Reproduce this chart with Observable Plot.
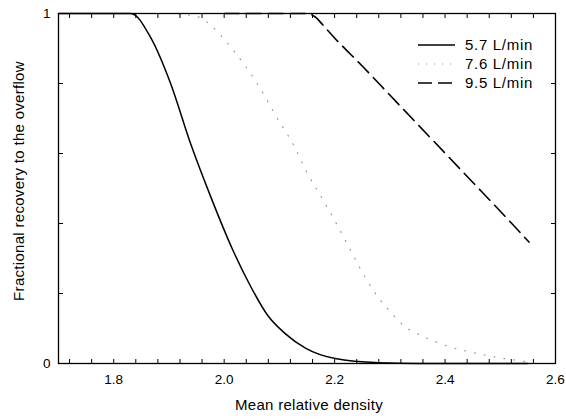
<!DOCTYPE html>
<html><head><meta charset="utf-8">
<script src="https://cdn.jsdelivr.net/npm/d3@7"></script>
<script src="https://cdn.jsdelivr.net/npm/@observablehq/plot@0.6"></script>
<style>
body{margin:0;background:#fff;font-family:"Liberation Sans",Arial,sans-serif;}
#wrap{position:relative;width:566px;height:419px;}
#legend{position:absolute;left:0;top:0;pointer-events:none;}
</style></head><body>
<div id="wrap"></div>
<script>
// Series names
const seriesNames = ["5.7 L/min", "7.6 L/min", "9.5 L/min"];
// 5.7 L/min (solid)
const density57 = [1.70, 1.80, 1.831, 1.867, 1.903, 1.939, 1.977, 2.014, 2.048, 2.079, 2.110, 2.148, 2.201, 2.28, 2.35, 2.45, 2.55];
const recovery57 = [1, 1, 1, 0.931, 0.80, 0.629, 0.471, 0.33, 0.22, 0.137, 0.086, 0.043, 0.014, 0.002, 0, 0, 0];
// 7.6 L/min (dotted)
const density76 = [1.70, 1.90, 1.954, 1.976, 1.994, 2.017, 2.039, 2.057, 2.075, 2.090, 2.124, 2.151, 2.184, 2.209, 2.229, 2.260, 2.279, 2.300, 2.327, 2.364, 2.404, 2.454, 2.504, 2.55];
const recovery76 = [1, 1, 0.99, 0.966, 0.937, 0.894, 0.849, 0.806, 0.76, 0.717, 0.629, 0.543, 0.454, 0.383, 0.323, 0.234, 0.189, 0.149, 0.106, 0.075, 0.05, 0.03, 0.015, 0.005];
// 9.5 L/min (dashed)
const density95 = [2.00, 2.149, 2.165, 2.18, 2.20, 2.25, 2.30, 2.35, 2.40, 2.45, 2.50, 2.552];
const recovery95 = [1, 1, 0.99, 0.965, 0.93, 0.85, 0.767, 0.684, 0.601, 0.518, 0.435, 0.347];
// Tick values
const xMajorTicks = [1.8, 2.0, 2.2, 2.4, 2.6];
const xMinorTicks = d3.range(0, 23).map(i => +(1.72 + i * 0.04).toFixed(2));
const yLabelTicks = [0, 1];
const yMinorTicks = [0, 0.2, 0.4, 0.6, 0.8, 1];

const styles = [
  {stroke: "#000", strokeWidth: 1.5, dash: null},
  {stroke: "#8f8f8f", strokeWidth: 1.1, dash: "1,9"},
  {stroke: "#000", strokeWidth: 1.6, dash: "15,7"}
];
const rows = [
  density57.map((x, i) => ({x, y: recovery57[i], s: seriesNames[0]})),
  density76.map((x, i) => ({x, y: recovery76[i], s: seriesNames[1]})),
  density95.map((x, i) => ({x, y: recovery95[i], s: seriesNames[2]}))
];

const font = '"Liberation Sans", Arial, sans-serif';
const chart = Plot.plot({
  width: 566, height: 419,
  marginLeft: 58, marginRight: 11, marginTop: 13, marginBottom: 56,
  style: {fontFamily: font, fontSize: "13.5px", background: "#fff", color: "#000"},
  x: {domain: [1.7, 2.6]},
  y: {domain: [0, 1]},
  marks: [
    ...rows.map((r, i) => Plot.line(r, {x: "x", y: "y", curve: "monotone-x",
      stroke: styles[i].stroke, strokeWidth: styles[i].strokeWidth, strokeDasharray: styles[i].dash})),
    Plot.frame({stroke: "#000", strokeWidth: 1.3}),
    Plot.axisX(xMinorTicks, {anchor: "bottom", tickSize: -4, fill: "none", label: null}),
    Plot.axisX(xMinorTicks, {anchor: "top", tickSize: -4, fill: "none", label: null}),
    Plot.axisX(xMajorTicks, {anchor: "bottom", tickSize: 0, tickPadding: 11, tickFormat: d3.format(".1f"),
      label: null, style: {letterSpacing: "0.5px"}}),
    Plot.axisY(yMinorTicks, {anchor: "left", tickSize: -5, fill: "none", label: null}),
    Plot.axisY(yMinorTicks, {anchor: "right", tickSize: -5, fill: "none", label: null}),
    Plot.axisY(yLabelTicks, {anchor: "left", tickSize: 0, tickPadding: 8, tickFormat: d3.format("d"), label: null})
  ]
});
const wrap = document.getElementById("wrap");
wrap.appendChild(chart);

// Axis titles and legend overlay
const xTitle = "Mean relative density";
const yTitle = "Fractional recovery to the overflow";
const ov = d3.select(wrap).append("svg").attr("id", "legend").attr("width", 566).attr("height", 419)
  .style("font-family", font);
ov.append("text").attr("x", 309).attr("y", 410).attr("text-anchor", "middle")
  .style("font-size", "15px").style("letter-spacing", "0.3px").text(xTitle);
ov.append("text").attr("transform", "translate(24,181) rotate(-90)").attr("text-anchor", "middle")
  .style("font-size", "15px").style("letter-spacing", "0.3px").text(yTitle);
seriesNames.forEach((name, i) => {
  const y = 45 + i * 19;
  ov.append("line").attr("x1", 418).attr("x2", 455).attr("y1", y).attr("y2", y)
    .attr("stroke", styles[i].stroke).attr("stroke-width", styles[i].strokeWidth)
    .attr("stroke-dasharray", i === 2 ? "14,6" : i === 1 ? "1,7" : null);
  ov.append("text").attr("x", 465).attr("y", y).attr("dy", "0.36em")
    .style("font-size", "15px").style("letter-spacing", "0.7px").text(name);
});
</script>
</body></html>
